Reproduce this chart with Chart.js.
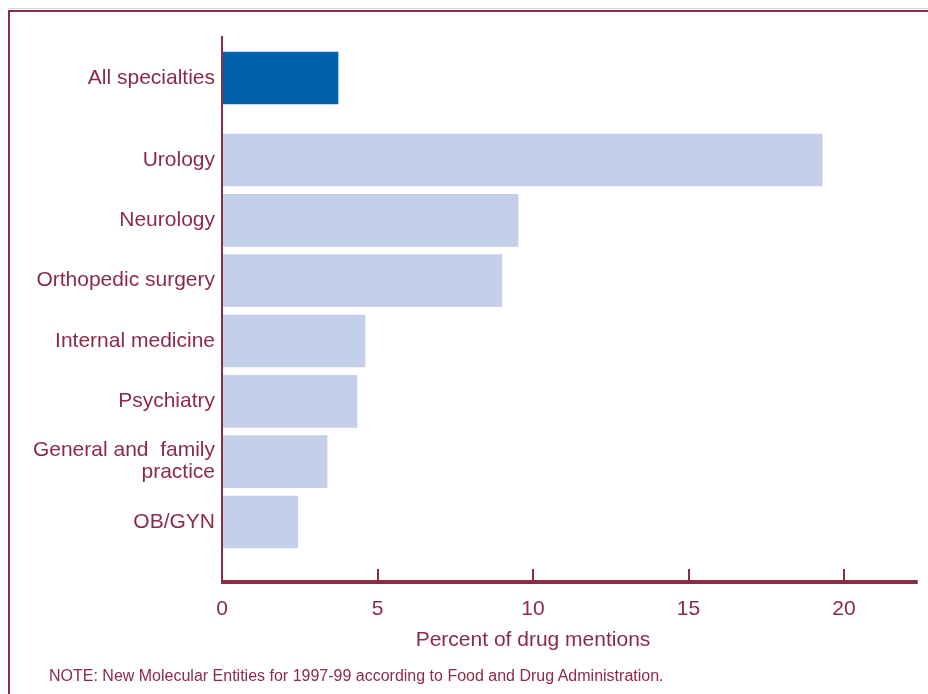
<!DOCTYPE html>
<html>
<head>
<meta charset="utf-8">
<script src="https://cdn.jsdelivr.net/npm/chart.js@4/dist/chart.umd.min.js"></script>
<style>
  html, body { margin: 0; padding: 0; background: #fff; }
  #wrap { position: relative; width: 928px; height: 694px; }
  #note {
    position: absolute; left: 49px; top: 666px;
    font: 16px "Liberation Sans", Arial, sans-serif;
    line-height: 19px; color: #8d2a45; white-space: nowrap;
  }
</style>
</head>
<body>
<div id="wrap">
  <canvas id="myChart" width="928" height="694"></canvas>
  <div id="note">NOTE: New Molecular Entities for 1997-99 according to Food and Drug Administration.</div>
</div>
<script>
const categories = [
  'All specialties',
  'Urology',
  'Neurology',
  'Orthopedic surgery',
  'Internal medicine',
  'Psychiatry',
  ['General and  family', 'practice'],
  'OB/GYN'
];
const percentValues = [3.73, 19.3, 9.52, 9.0, 4.6, 4.34, 3.38, 2.44];
const xTickValues = [0, 5, 10, 15, 20];

const maroon = '#8d2a45';
const fontFamily = '"Liberation Sans", Arial, Helvetica, sans-serif';

// the summary row sits a bit apart from the others
const summaryGap = 0.36;
const rowPos = categories.map((c, i) => i === 0 ? 0 : i + summaryGap);
const axisEnd = 22.37;

const axesPlugin = {
  id: 'axesPlugin',
  beforeDraw(chart) {
    const c = chart.ctx;
    c.save();
    c.fillStyle = '#d9d9d9';
    c.fillRect(8, 8, 920, 1);
    c.fillStyle = maroon;
    c.fillRect(8, 10, 920, 2);
    c.fillRect(8, 10, 2, 684);
    c.restore();
  },
  afterDatasetsDraw(chart) {
    const c = chart.ctx;
    const area = chart.chartArea;
    const x = chart.scales.x;
    c.save();
    c.fillStyle = maroon;
    c.fillRect(area.left - 1, area.top, 2, area.bottom + 2 - area.top);
    const xEnd = x.getPixelForValue(axisEnd);
    c.fillRect(area.left - 1, area.bottom - 2, xEnd - area.left + 1, 4);
    xTickValues.forEach(v => {
      if (v === 0) return;
      const px = Math.round(x.getPixelForValue(v));
      c.fillRect(px - 1, area.bottom - 13, 2, 11);
    });
    c.restore();
  }
};

const ctx = document.getElementById('myChart').getContext('2d');

new Chart(ctx, {
  type: 'bar',
  data: {
    datasets: [{
      data: percentValues.map((v, i) => ({ x: v, y: rowPos[i] })),
      backgroundColor: percentValues.map((v, i) => i === 0 ? '#0062a9' : '#c4d0e9'),
      borderWidth: 0,
      barThickness: 52
    }]
  },
  options: {
    indexAxis: 'y',
    responsive: false,
    devicePixelRatio: 1,
    animation: false,
    layout: { padding: { left: 0, right: 84, top: 36, bottom: 0 } },
    plugins: {
      legend: { display: false },
      tooltip: { enabled: false }
    },
    scales: {
      x: {
        type: 'linear',
        min: 0,
        max: 20,
        grid: { display: false, drawTicks: false },
        border: { display: false },
        afterBuildTicks(scale) {
          scale.ticks = xTickValues.map(v => ({ value: v }));
        },
        afterFit(scale) { scale.height = 112; },
        ticks: {
          color: maroon,
          padding: 15,
          font: { family: fontFamily, size: 21 }
        },
        title: {
          display: true,
          text: 'Percent of drug mentions',
          color: maroon,
          font: { family: fontFamily, size: 21 },
          padding: { top: 0, bottom: 41 }
        }
      },
      y: {
        type: 'linear',
        reverse: true,
        offset: false,
        min: -0.696,
        max: 8.355,
        grid: { display: false, offset: false, drawTicks: false },
        border: { display: false },
        afterBuildTicks(scale) {
          scale.ticks = rowPos.map(v => ({ value: v }));
        },
        afterFit(scale) { scale.width = 222; },
        ticks: {
          autoSkip: false,
          color: maroon,
          padding: 7,
          font: { family: fontFamily, size: 21, lineHeight: 1.05 },
          callback: (value, index) => categories[index]
        }
      }
    }
  },
  plugins: [axesPlugin]
});
</script>
</body>
</html>
